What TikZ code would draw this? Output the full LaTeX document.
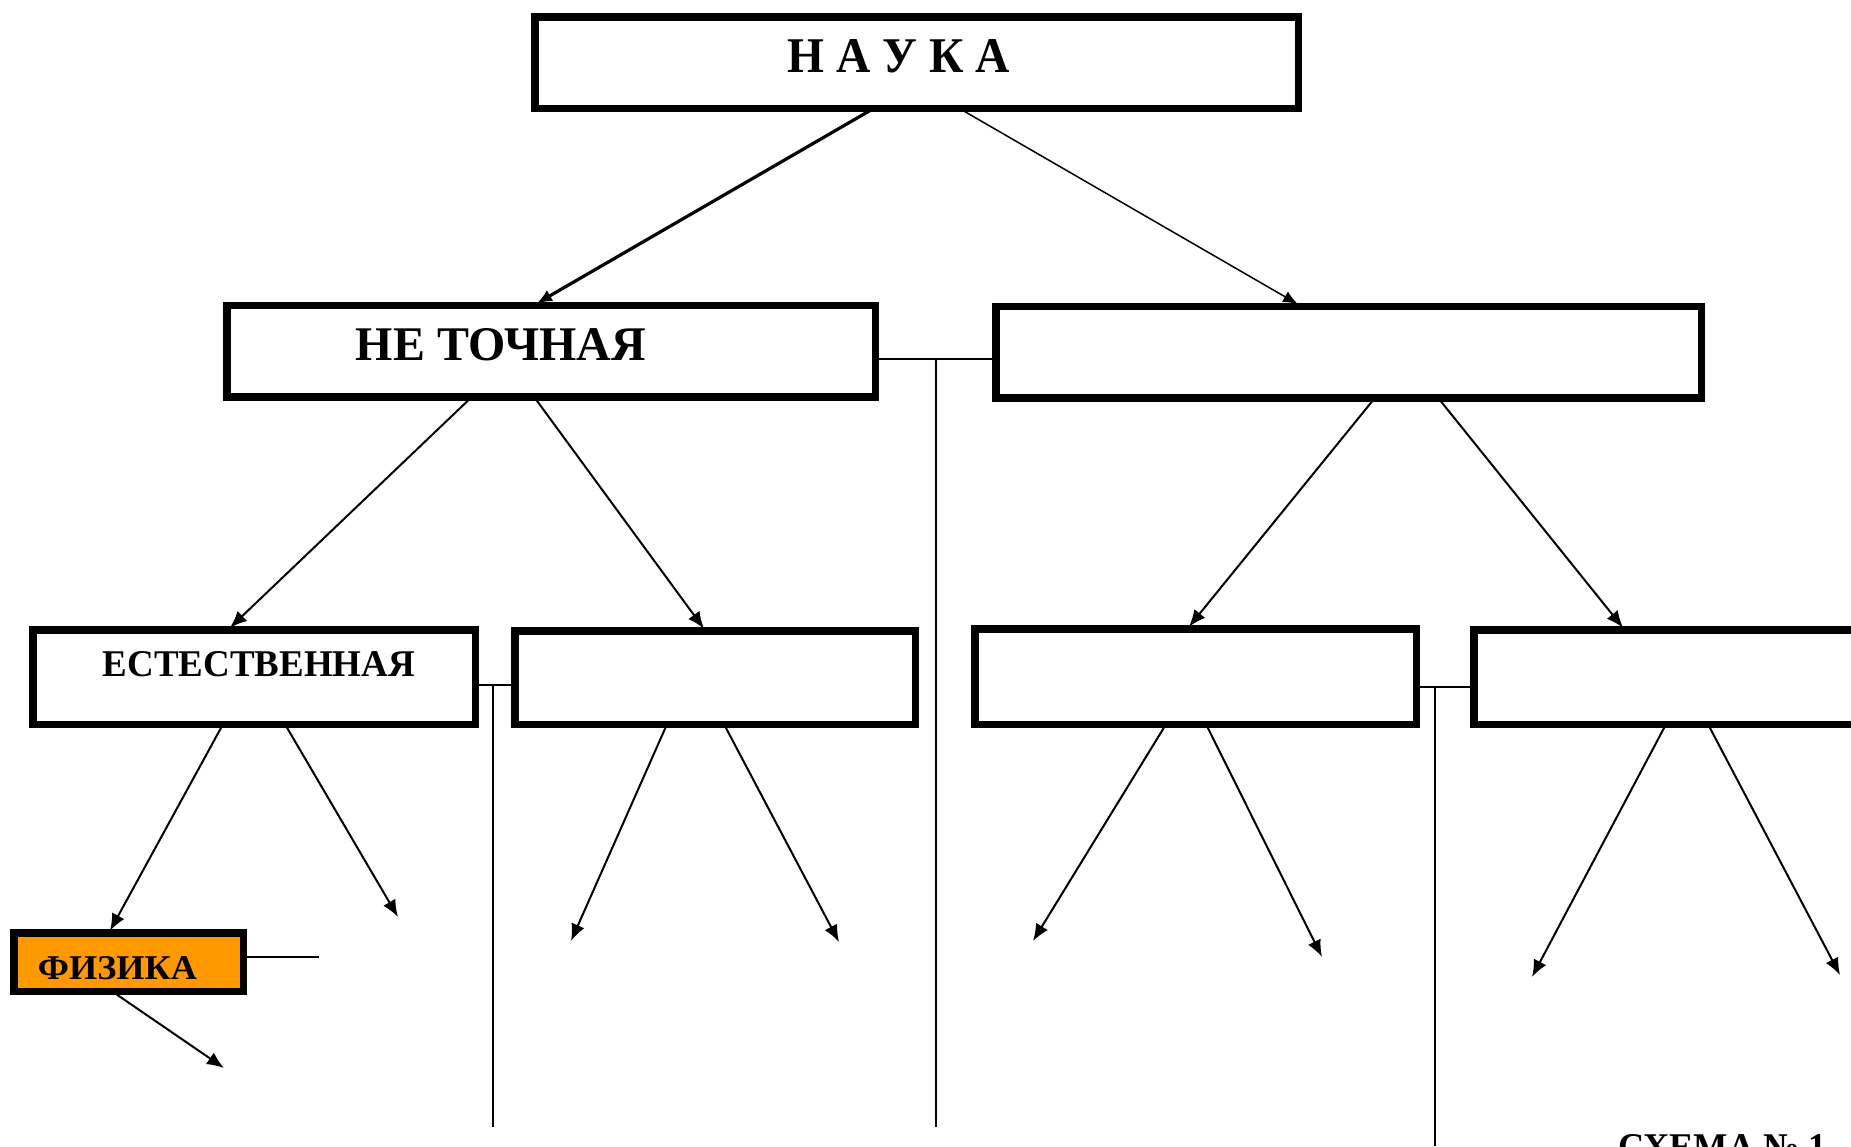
\documentclass[tikz,border=0pt]{standalone}
\usepackage{fontspec}
\setmainfont{Liberation Serif}
\usetikzlibrary{arrows.meta}
\definecolor{physorange}{HTML}{FF9900}
% fit a line of caps into a given width and cap height
\newcommand{\fittext}[3]{\resizebox{#1pt}{#2pt}{\bfseries #3}}
\tikzset{
  box/.style={draw, line width=7.5pt, outer sep=0pt, inner sep=0pt, fill=white},
  caption/.style={inner sep=0pt, outer sep=0pt},
  link/.style={line width=2pt, -{Latex[length=17pt,width=14pt]}},
  mainlink/.style={line width=3.2pt, -{Latex[length=15pt,width=13pt]}},
  joint/.style={line width=1.5pt}
}
\begin{document}
\begin{tikzpicture}[x=1pt,y=-1pt]
\useasboundingbox (0,0) rectangle (1851,1146);
\clip (0,0) rectangle (1851,1146);
\fill[white] (0,0) rectangle (1851,1146);

% boxes
\node[box, minimum width=763.5pt, minimum height=91.5pt] (nauka) at (916.5,62.5) {};
\node[box, minimum width=648.5pt, minimum height=91.5pt] (netoch) at (551,351) {};
\node[box, minimum width=705.5pt, minimum height=91.5pt] (toch) at (1348.5,352) {};
\node[box, minimum width=442.5pt, minimum height=94.5pt] (estest) at (254,677) {};
\node[box, minimum width=400.5pt, minimum height=93.5pt] (boxb) at (715,677.5) {};
\node[box, minimum width=441.5pt, minimum height=95.5pt] (boxc) at (1195.5,676.5) {};
\node[box, minimum width=402.5pt, minimum height=94.5pt] (boxd) at (1675,677) {};
\node[box, fill=physorange, minimum width=229.5pt, minimum height=58.5pt] (fizika) at (128.5,962) {};

% texts
\node[caption] (naukaT) at (899,56.5) {\fittext{222}{33}{Н А У К А}};
\node[caption] (netochT) at (501,345) {\fittext{290}{32}{НЕ ТОЧНАЯ}};
\node[caption] (estestT) at (259,664.5) {\fittext{312}{25}{ЕСТЕСТВЕННАЯ}};
\node[caption] (fizikaT) at (117.5,968.5) {\fittext{159}{23}{ФИЗИКА}};
\node[caption] (schemeT) at (1722.5,1147.5) {\fittext{209}{25}{СХЕМА № 1}};

% side joints with long vertical lines
\coordinate (jA) at (936,359);
\coordinate (jAend) at (936,1127);
\draw[joint] (netoch.east |- jA) -- (toch.west |- jA);
\draw[joint] (jA) -- (jAend);

\coordinate (jB) at (493,685);
\coordinate (jBend) at (493,1127);
\draw[joint] (estest.east |- jB) -- (boxb.west |- jB);
\draw[joint] (jB) -- (jBend);

\coordinate (jC) at (1435,687);
\coordinate (jCend) at (1435,1146);
\draw[joint] (boxc.east |- jC) -- (boxd.west |- jC);
\draw[joint] (jC) -- (jCend);

\coordinate (fzEnd) at (319,957);
\draw[joint] (fizika.east |- fzEnd) -- (fzEnd);

% level links
\draw[mainlink] ([xshift=-42.5pt]nauka.south) -- ([xshift=-14pt,yshift=2pt]netoch.north);
\draw[joint, -{Latex[length=15pt,width=12pt]}] ([xshift=42.5pt]nauka.south) -- ([xshift=-50.5pt,yshift=2pt]toch.north);

\draw[link] ([xshift=-79pt]netoch.south) -- ([xshift=-24pt,yshift=2pt]estest.north);
\draw[link] ([xshift=-17pt]netoch.south) -- ([xshift=-11pt,yshift=2pt]boxb.north);
\draw[link] ([xshift=26.5pt]toch.south) -- ([xshift=-6.5pt,yshift=2pt]boxc.north);
\draw[link] ([xshift=89.5pt]toch.south) -- ([xshift=-52pt,yshift=2pt]boxd.north);

% lower links
\draw[link] ([xshift=-31pt]estest.south) -- ([xshift=-18.5pt,yshift=2pt]fizika.north);
\coordinate (eR) at (398,917);
\draw[link] ([xshift=31pt]estest.south) -- (eR);

\coordinate (bL) at (571,941);
\coordinate (bR) at (839,942);
\draw[link] ([xshift=-48pt]boxb.south) -- (bL);
\draw[link] ([xshift=9pt]boxb.south) -- (bR);

\coordinate (cL) at (1033,941);
\coordinate (cR) at (1322,957);
\draw[link] ([xshift=-29.5pt]boxc.south) -- (cL);
\draw[link] ([xshift=10.5pt]boxc.south) -- (cR);

\coordinate (dL) at (1532,977);
\coordinate (dR) at (1840,975);
\draw[link] ([xshift=-9pt]boxd.south) -- (dL);
\draw[link] ([xshift=33pt]boxd.south) -- (dR);

\coordinate (fL) at (224,1068);
\draw[link] ([xshift=-16.5pt]fizika.south) -- (fL);
\end{tikzpicture}
\end{document}
